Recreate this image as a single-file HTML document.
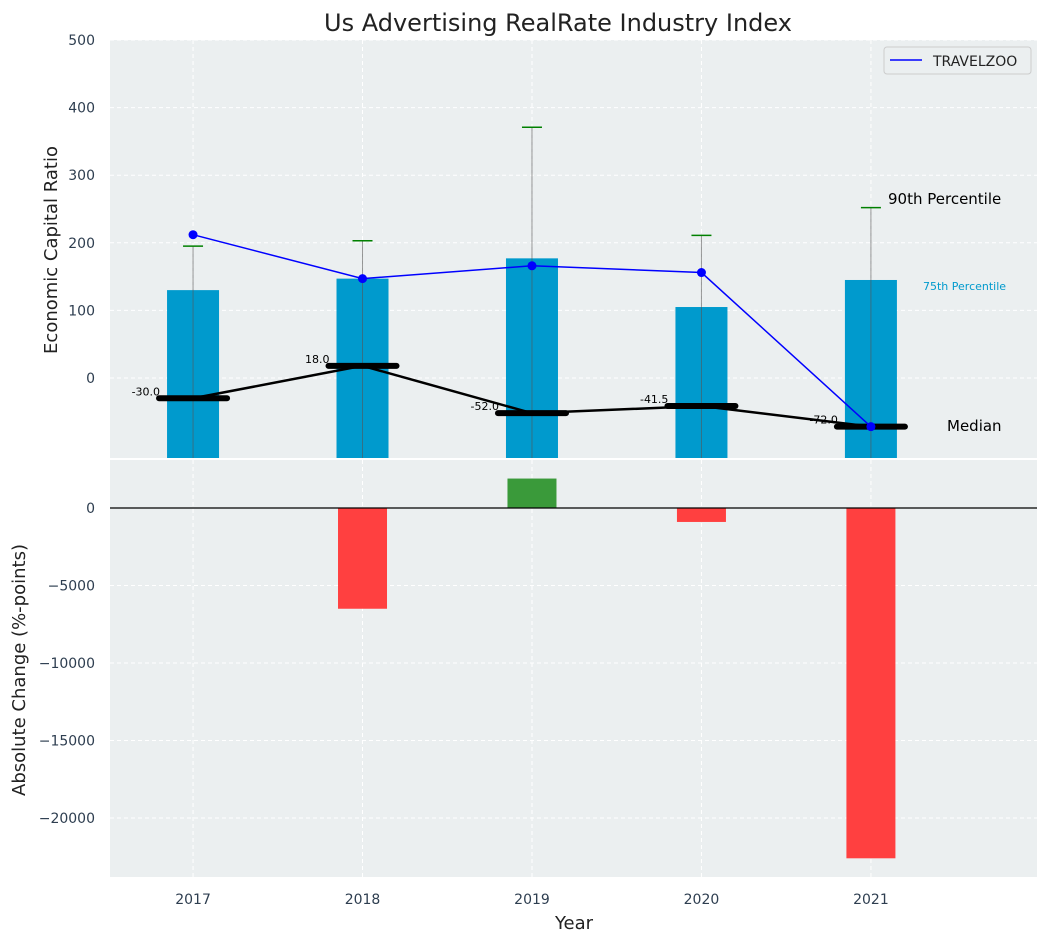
<!DOCTYPE html>
<html><head><meta charset="utf-8"><style>
body{margin:0;background:#fff;}
svg{display:block;font-family:"DejaVu Sans","Liberation Sans",sans-serif;}
</style></head><body>
<svg id="c" width="1048" height="942" xmlns="http://www.w3.org/2000/svg"></svg>
<script>
const years=[2017,2018,2019,2020,2021];
const p75=[130,147,177,105,145];
const p90=[195,203,371,211,252];
const median=[-30,18,-52,-41.5,-72];
const travelzoo=[212,147,166,156,-72];
const change=[0,-6500,1900,-900,-22600];
const topTicks=[0,100,200,300,400,500];
const botTicks=[0,-5000,-10000,-15000,-20000];

const NS="http://www.w3.org/2000/svg";
const svg=document.getElementById('c');
function el(t,a,p){const e=document.createElementNS(NS,t);for(const k in a)e.setAttribute(k,a[k]);(p||svg).appendChild(e);return e;}
const L=110,R=1037;
const x=v=>L+(v-2016.51)*(R-L)/(2021.98-2016.51);
const T0=40,T1=458,B0=460,B1=877;
const yT=v=>378-v*0.676;
const yB=v=>508-v*(77.5/5000);

// backgrounds
let e=el('rect',{x:L,y:T0,width:R-L,height:T1-T0,fill:'#ebeff0'});

e=el('rect',{x:L,y:B0,width:R-L,height:B1-B0,fill:'#ebeff0'});


// grids
years.forEach(v=>{
  el('line',{x1:x(v),x2:x(v),y1:T0,y2:T1,stroke:'#fff','stroke-dasharray':'4,3'});
  el('line',{x1:x(v),x2:x(v),y1:B0,y2:B1,stroke:'#fff','stroke-dasharray':'4,3'});
  e=el('text',{x:x(v),y:904,'text-anchor':'middle','font-size':14,fill:'#2e3e50'});e.textContent=v;
  
});
topTicks.forEach(v=>{
  el('line',{x1:L,x2:R,y1:yT(v),y2:yT(v),stroke:'#fff','stroke-dasharray':'4,3'});
  e=el('text',{x:95,y:yT(v)+5,'text-anchor':'end','font-size':14,fill:'#2e3e50'});e.textContent=v;
  
});
botTicks.forEach(v=>{
  el('line',{x1:L,x2:R,y1:yB(v),y2:yB(v),stroke:'#fff','stroke-dasharray':'4,3'});
  e=el('text',{x:95,y:yB(v)+5,'text-anchor':'end','font-size':14,fill:'#2e3e50'});e.textContent=(v<0?'\u2212'+(-v):v);
  
});

// top bars and whiskers
years.forEach((v,i)=>{
  e=el('rect',{x:x(v)-26,y:yT(p75[i]),width:52,height:T1-yT(p75[i]),fill:'#009ACD'});
  
  el('line',{x1:x(v),x2:x(v),y1:T1,y2:yT(p90[i]),stroke:'#555','stroke-opacity':0.6,'stroke-width':1});
  e=el('line',{x1:x(v)-10,x2:x(v)+10,y1:yT(p90[i]),y2:yT(p90[i]),stroke:'green','stroke-width':1.5});
  
});
// median line
e=el('polyline',{points:years.map((v,i)=>x(v)+','+yT(median[i])).join(' '),fill:'none',stroke:'#000','stroke-width':2.5});

years.forEach((v,i)=>{
  e=el('line',{x1:x(v)-34,x2:x(v)+34,y1:yT(median[i]),y2:yT(median[i]),stroke:'#000','stroke-width':6,'stroke-linecap':'round'});
  
  e=el('text',{x:x(v)-33,y:yT(median[i])-3,'text-anchor':'end','font-size':11,fill:'#000'});e.textContent=median[i].toFixed(1);
  
});
// travelzoo
e=el('polyline',{points:years.map((v,i)=>x(v)+','+yT(travelzoo[i])).join(' '),fill:'none',stroke:'blue','stroke-width':1.5});

years.forEach((v,i)=>{
  e=el('circle',{cx:x(v),cy:yT(travelzoo[i]),r:4.5,fill:'blue'});
  
});
// annotations
e=el('text',{x:888,y:204,'font-size':15,fill:'#000'});e.textContent='90th Percentile';

e=el('text',{x:923,y:290,'font-size':11,fill:'#009ACD'});e.textContent='75th Percentile';

e=el('text',{x:947,y:431,'font-size':15,fill:'#000'});e.textContent='Median';


// legend
const lg=el('g',{});

el('rect',{x:884,y:47,width:147,height:27,rx:3,fill:'#ebeff0',stroke:'#ccc'},lg);
el('line',{x1:890,x2:922,y1:60,y2:60,stroke:'blue','stroke-width':1.5},lg);
e=el('text',{x:933,y:66,'font-size':14,fill:'#222'},lg);e.textContent='TRAVELZOO';


// bottom bars
years.forEach((v,i)=>{
  const c=change[i];if(!c)return;
  const y0=yB(Math.max(c,0)),h=Math.abs(yB(c)-yB(0));
  e=el('rect',{x:x(v)-24.5,y:y0,width:49,height:h,fill:c>0?'#3a9a3a':'#ff4040'});
  
});
el('line',{x1:L,x2:R,y1:yB(0),y2:yB(0),stroke:'#000','stroke-width':1.2});

// titles
e=el('text',{x:558,y:31,'text-anchor':'middle','font-size':24,fill:'#222'});e.textContent='Us Advertising RealRate Industry Index';

e=el('text',{x:574,y:929,'text-anchor':'middle','font-size':18,fill:'#222'});e.textContent='Year';

e=el('text',{x:0,y:0,'text-anchor':'middle','font-size':18,fill:'#222',transform:'translate(57,250) rotate(-90)'});e.textContent='Economic Capital Ratio';

e=el('text',{x:0,y:0,'text-anchor':'middle','font-size':18,fill:'#222',transform:'translate(25,670) rotate(-90)'});e.textContent='Absolute Change (%-points)';

</script>
</body></html>
